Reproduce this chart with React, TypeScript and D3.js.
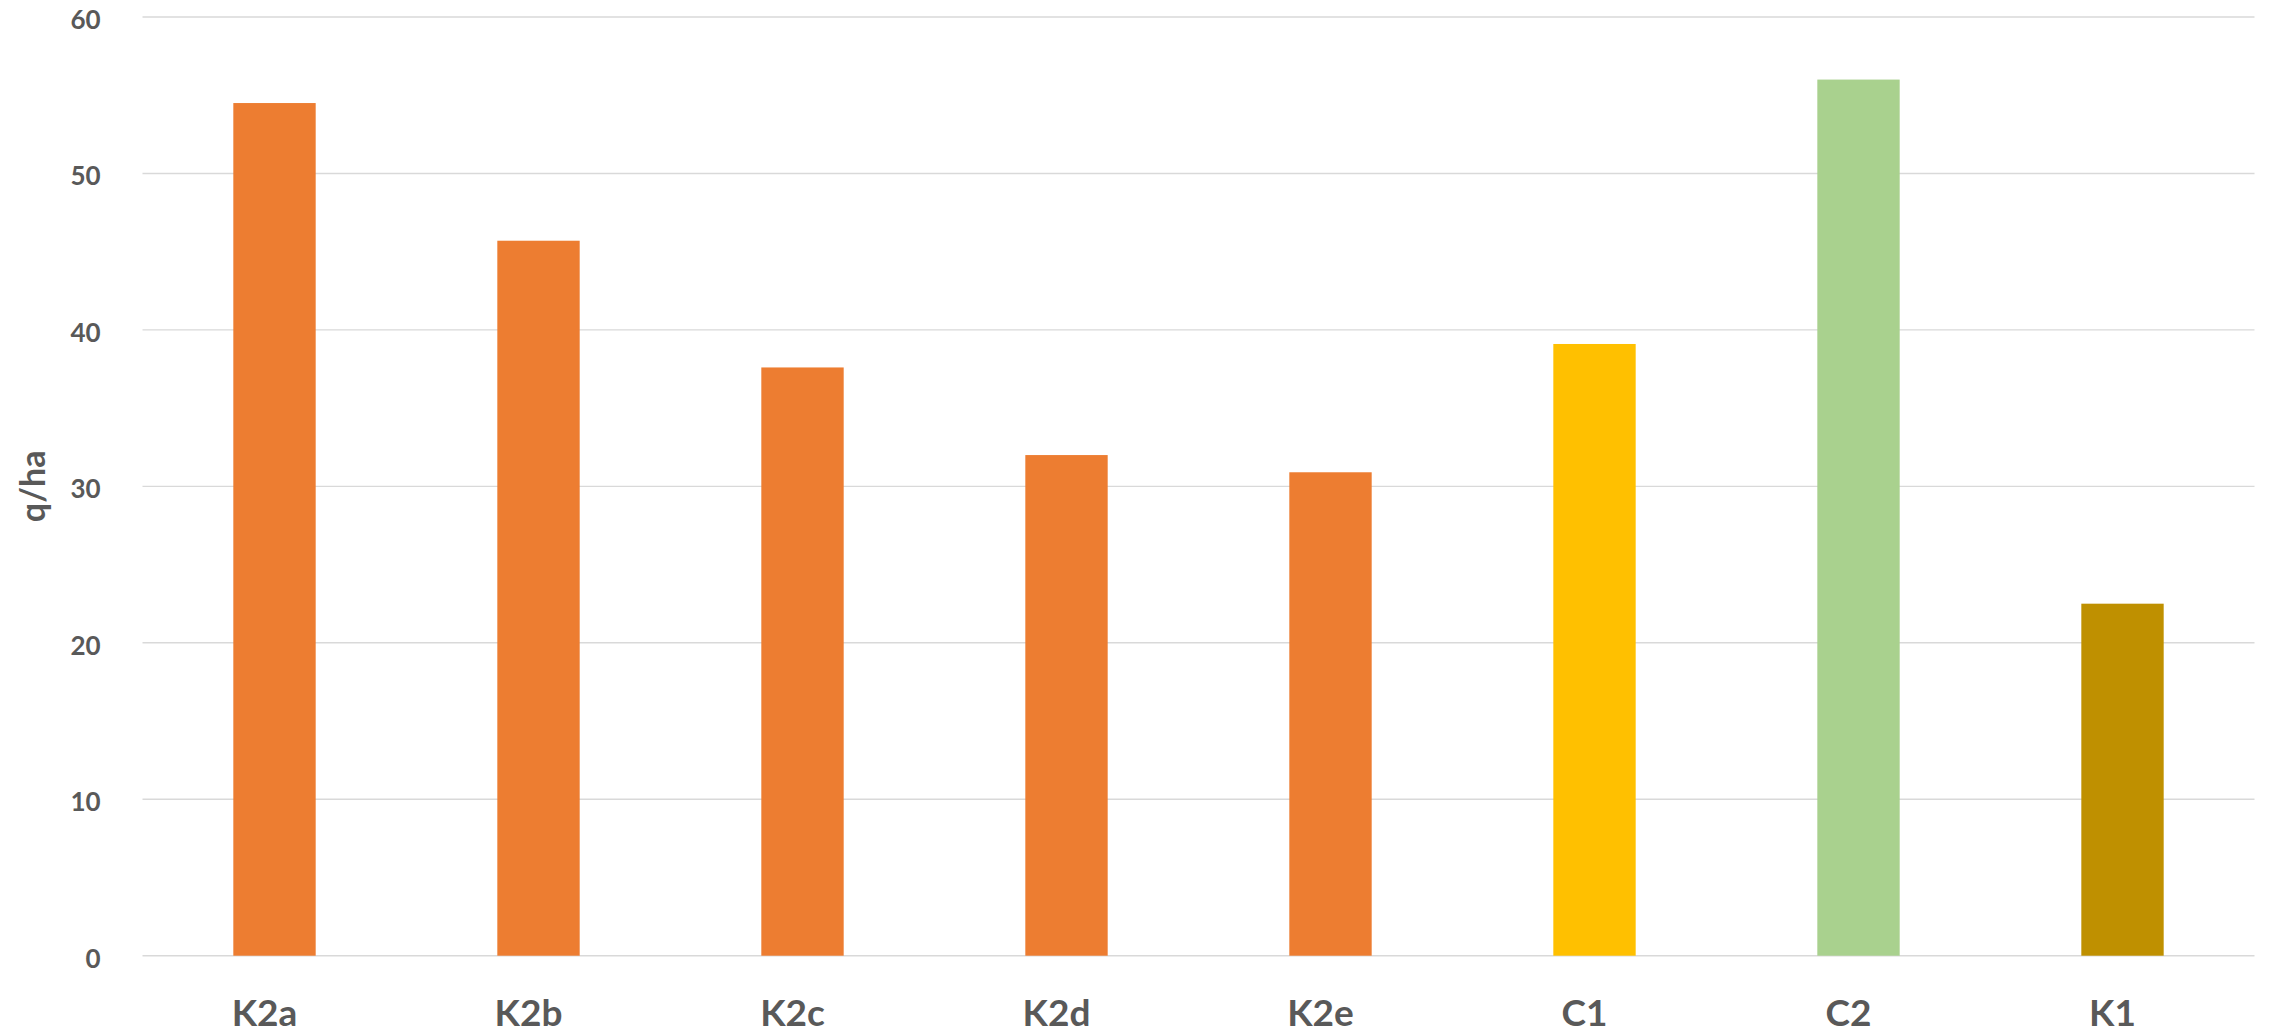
import React from "react";
import * as d3 from "d3";

// Yield per treatment (q/ha)
const categories = ["K2a", "K2b", "K2c", "K2d", "K2e", "C1", "C2", "K1"];
const values = [54.5, 45.7, 37.6, 32.0, 30.9, 39.1, 56.0, 22.5];
const barColors = ["#ED7D31", "#ED7D31", "#ED7D31", "#ED7D31", "#ED7D31", "#FFC000", "#A9D18E", "#BF9000"];
const yTicks = [0, 10, 20, 30, 40, 50, 60];
const yTitle = "q/ha";

const W = 2272;
const H = 1034;
const margin = { left: 142.5, right: 17.5, top: 17, bottom: 78.3 };

export default function App() {
  const x = d3
    .scaleBand<string>()
    .domain(categories)
    .range([margin.left, W - margin.right])
    .paddingInner(0.688)
    .paddingOuter(0.344);

  const y = d3
    .scaleLinear()
    .domain([0, 60])
    .range([H - margin.bottom, margin.top]);

  const font = "Lato, 'Open Sans', sans-serif";
  const textColor = "#595959";

  return (
    <svg
      width={W}
      height={H}
      style={{ position: "absolute", left: 0, top: 0, background: "#fff" }}
    >
      {/* horizontal gridlines */}
      {yTicks.map((t) => (
        <line
          key={`g${t}`}
          x1={margin.left}
          x2={W - margin.right}
          y1={y(t)}
          y2={y(t)}
          stroke="#D9D9D9"
          strokeWidth={1.4}
        />
      ))}

      {/* y tick labels */}
      {yTicks.map((t) => (
        <text
          key={`t${t}`}
          x={100.7}
          y={y(t) + 12}
          textAnchor="end"
          fontFamily={font}
          fontWeight={700}
          fontSize={26}
          fill={textColor}
        >
          {t}
        </text>
      ))}

      {/* bars */}
      {categories.map((c, i) => (
        <rect
          key={c}
          x={x(c)}
          y={y(values[i])}
          width={x.bandwidth()}
          height={y(0) - y(values[i])}
          fill={barColors[i]}
        />
      ))}

      {/* category labels */}
      {categories.map((c) => (
        <text
          key={`l${c}`}
          x={(x(c) as number) + x.bandwidth() / 2 - 10}
          y={1026}
          textAnchor="middle"
          fontFamily={font}
          fontWeight={700}
          fontSize={37}
          fill={textColor}
        >
          {c}
        </text>
      ))}

      {/* y axis title */}
      <text
        transform={`translate(45, ${(y(0) + y(60)) / 2}) rotate(-90)`}
        textAnchor="middle"
        fontFamily={font}
        fontWeight={700}
        fontSize={34}
        fill={textColor}
      >
        {yTitle}
      </text>
    </svg>
  );
}
